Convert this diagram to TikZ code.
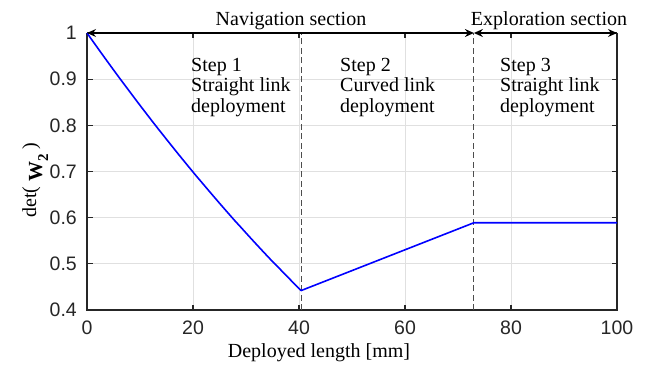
\documentclass[tikz,border=0pt]{standalone}
\usepackage{fontspec}
\setmainfont{Liberation Serif}
\newfontfamily\ticksfont{Liberation Sans}
\usetikzlibrary{arrows.meta}
\definecolor{axisgray}{HTML}{262626}
\definecolor{gridgray}{HTML}{E0E0E0}
\definecolor{dashgray}{HTML}{4D4D4D}
\begin{document}
\begin{tikzpicture}[x=1pt,y=1pt,
  ticklab/.style={font=\ticksfont\fontsize{19.5}{22}\selectfont, text=axisgray, inner sep=0pt},
  serif/.style={font=\fontsize{20}{20.3}\selectfont, inner sep=0pt},
  steptext/.style={serif, align=left, anchor=base west},
  gridline/.style={gridgray, line width=0.8pt},
  axisline/.style={axisgray, line width=1.2pt},
  phase/.style={dashgray, line width=1.1pt, dash pattern=on 6pt off 3.5pt},
  curve/.style={blue, line width=1.6pt, line join=round},
  span/.style={black, line width=1.2pt, {Stealth[length=9pt,width=8pt,inset=3pt]}-{Stealth[length=9pt,width=8pt,inset=3pt]}}]
\useasboundingbox (0,0) rectangle (652,365);

\begin{scope}[shift={(87pt,-129.67pt)}, x=5.3pt, y=461.67pt]
  % grid
  \foreach \gx in {20,40,60,80} \draw[gridline] (\gx,0.4) -- (\gx,1);
  \foreach \gy in {0.5,0.6,0.7,0.8,0.9} \draw[gridline] (0,\gy) -- (100,\gy);

  % axes box
  \coordinate (bl) at (0,0.4);
  \coordinate (br) at (100,0.4);
  \coordinate (tl) at (0,1);
  \coordinate (tr) at (100,1);
  \draw[axisline] (tl) -- (bl) -- (br) -- (tr);

  % ticks
  \foreach \gx in {0,20,40,60,80,100} {
    \draw[axisline] (\gx,0.4) -- ++(0,5.5pt);
    \draw[axisline] (\gx,1) -- ++(0,-5.5pt);
    \node[ticklab, anchor=center] (xt\gx) at ([yshift=-18pt]\gx,0.4) {\gx};
  }
  \foreach \gy/\lab in {0.4/0.4,0.5/0.5,0.6/0.6,0.7/0.7,0.8/0.8,0.9/0.9,1/1} {
    \draw[axisline] (0,\gy) -- ++(5.5pt,0);
    \draw[axisline] (100,\gy) -- ++(-5.5pt,0);
    \node[ticklab, anchor=east] (yt\lab) at ([xshift=-10pt]0,\gy) {\lab};
  }

  % phase boundaries
  \coordinate (p1b) at (40.4,0.4);
  \coordinate (p1t) at (40.4,1);
  \coordinate (p2b) at (73,0.4);
  \coordinate (p2t) at (73,1);
  \draw[phase] (p1b) -- (p1t);
  \draw[phase] (p2b) -- (p2t);

  % determinant curve
  \draw[curve] plot[domain=0:40.4, samples=40] (\x, {1-0.01626*\x+0.0000632*\x*\x})
    -- (73,0.589) -- (100,0.589);

  % section spans
  \draw[span] (tl) -- (p2t);
  \draw[span] (p2t) -- (tr);
\end{scope}

% section labels
\node[serif, anchor=base] (nav) at (291,339) {Navigation section};
\node[serif, anchor=base] (expl) at (549,339) {Exploration section};

% step descriptions
\node[steptext] (s1) at (191,253) {Step 1\\Straight link\\deployment};
\node[steptext] (s2) at (340,253) {Step 2\\Curved link\\deployment};
\node[steptext] (s3) at (500,253) {Step 3\\Straight link\\deployment};

% axis labels
\node[serif, anchor=center] (xlab) at (319,12) {Deployed length [mm]};
\node[serif, anchor=base, rotate=90] (ylab) at (36,185)
  {det( \raisebox{-6pt}{\bfseries W}\raisebox{-12pt}{\fontsize{15}{15}\selectfont\bfseries 2} )};
\end{tikzpicture}
\end{document}
